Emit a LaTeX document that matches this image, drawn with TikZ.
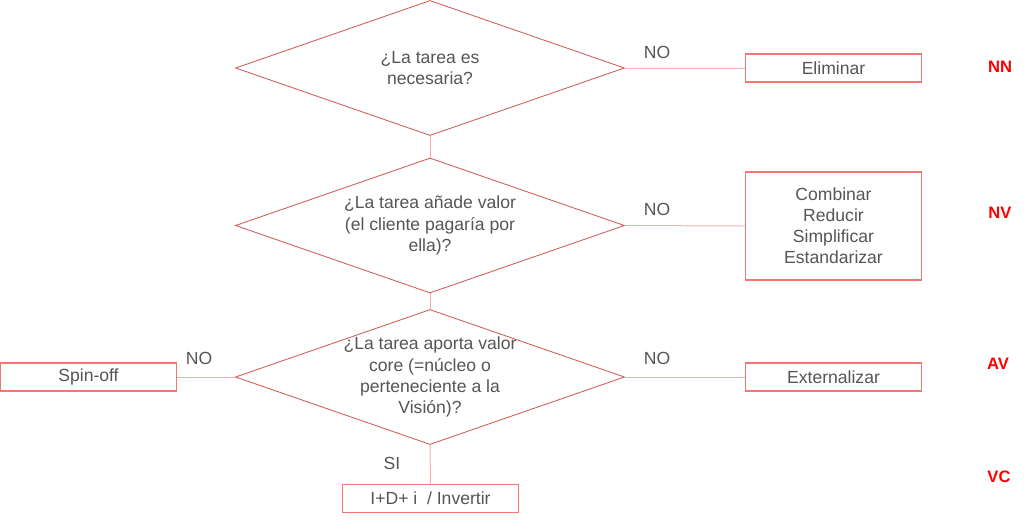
\documentclass[tikz,border=0pt]{standalone}
\usepackage{fontspec}
\setmainfont{Liberation Sans}
\usetikzlibrary{shapes.geometric}
\definecolor{qline}{RGB}{205,90,85}
\definecolor{boxline}{RGB}{240,120,115}
\definecolor{linkline}{RGB}{245,175,175}
\definecolor{txtgray}{RGB}{85,85,85}
\begin{document}
\begin{tikzpicture}[x=0.025cm, y=-0.025cm,
    every node/.style={font=\fontsize{12.5}{15}\selectfont, text=txtgray},
    decision/.style={diamond, draw=qline, line width=0.6pt, minimum width=9.725cm, minimum height=3.375cm, inner sep=0pt},
    qtext/.style={align=center},
    actbox/.style={draw=boxline, line width=0.8pt, minimum width=4.4cm, minimum height=0.7cm, inner sep=0pt, align=center},
    link/.style={draw=linkline, line width=0.7pt},
    tag/.style={font=\fontsize{11.8}{14}\selectfont\bfseries, text=red}]
    \useasboundingbox (0,0) rectangle (1024,520);
    % questions
    \node[decision] (q1) at (430,68) {};
    \node[qtext] at (q1) {¿La tarea es\\necesaria?};
    \node[decision] (q2) at (430,225.5) {};
    \node[qtext] at (q2) {¿La tarea añade valor\\(el cliente pagaría por\\ella)?};
    \node[decision] (q3) at (430,377) {};
    \node[qtext] at (q3) {¿La tarea aporta valor\\core (=núcleo o\\perteneciente a la\\Visión)?};
    % actions
    \node[actbox] (elim) at (833.5,68) {Eliminar};
    \node[actbox, minimum height=2.7cm] (comb) at (833.5,226) {Combinar\\Reducir\\Simplificar\\Estandarizar};
    \node[actbox] (ext) at (833.5,377) {Externalizar};
    \node[actbox] (spin) at (88.5,377) {Spin-off};
    \node[actbox] (idi) at (430.5,498.5) {I+D+ i\ \ / Invertir};
    % links
    \draw[link] (q1.east) -- (elim.west);
    \draw[link] (q1.south) -- (q2.north);
    \draw[link] (q2.east) -- (comb.west);
    \draw[link] (q2.south) -- (q3.north);
    \draw[link] (q3.east) -- (ext.west);
    \draw[link] (q3.west) -- (spin.east);
    \draw[link] (q3.south) -- (idi.north);
    \node at (657,52) {NO};
    \node at (657,209) {NO};
    \node at (657,358) {NO};
    \node at (199,358) {NO};
    \node at (392,463) {SI};
    % levels
    \node[tag] at (1000,67) {NN};
    \node[tag] at (1000,213) {NV};
    \node[tag] at (998,364) {AV};
    \node[tag] at (999,477) {VC};
\end{tikzpicture}
\end{document}
